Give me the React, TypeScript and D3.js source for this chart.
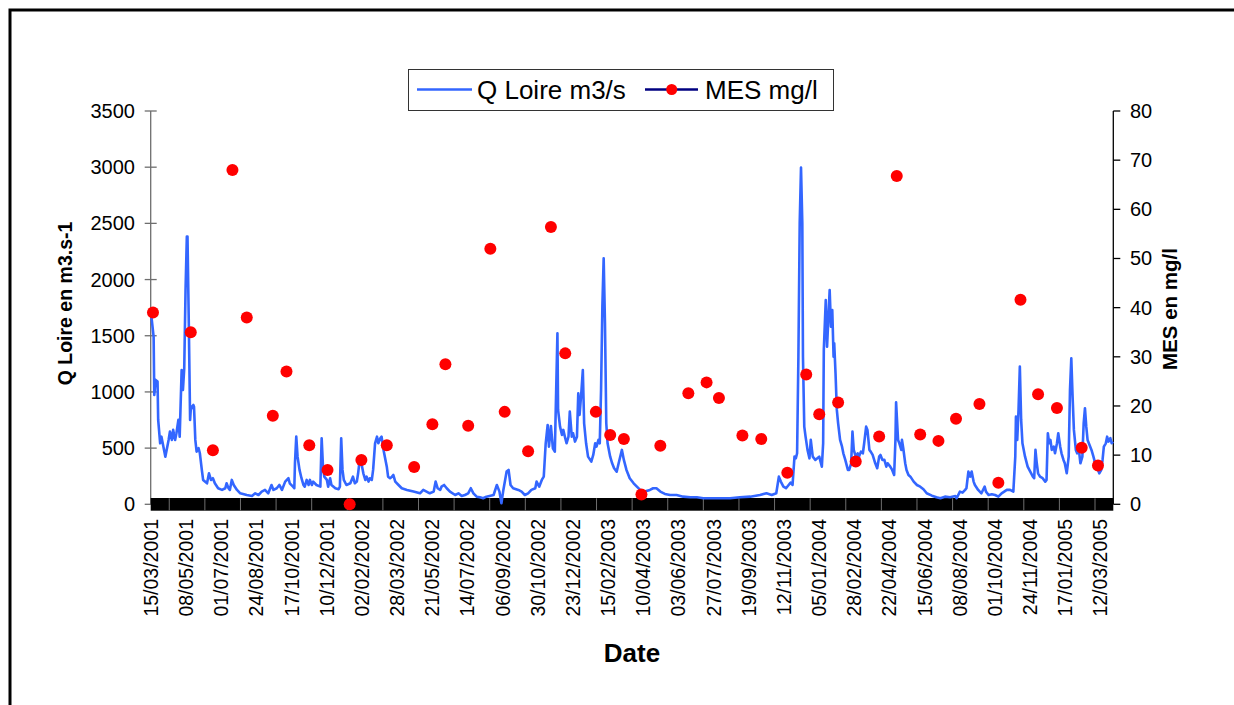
import React from "react";
import * as d3 from "d3";

// Daily categories starting 15/03/2001 (category index = days since start)
const CATEGORY_COUNT = 1478;
const LABEL_STEP = 54;
const dateLabels = [
  "15/03/2001", "08/05/2001", "01/07/2001", "24/08/2001", "17/10/2001", "10/12/2001",
  "02/02/2002", "28/03/2002", "21/05/2002", "14/07/2002", "06/09/2002", "30/10/2002",
  "23/12/2002", "15/02/2003", "10/04/2003", "03/06/2003", "27/07/2003", "19/09/2003",
  "12/11/2003", "05/01/2004", "28/02/2004", "22/04/2004", "15/06/2004", "08/08/2004",
  "01/10/2004", "24/11/2004", "17/01/2005", "12/03/2005",
];

const qTicks = [0, 500, 1000, 1500, 2000, 2500, 3000, 3500];
const mesTicks = [0, 10, 20, 30, 40, 50, 60, 70, 80];

// Q Loire (m3/s): day index and flow
const qDay = [
  0, 1, 4, 5, 7, 10, 11, 14, 16, 19, 22, 27, 29, 32, 34, 37, 39, 42, 44, 47, 49, 51, 53, 55, 56, 58, 60, 61, 63, 65, 66, 68, 70, 73, 75, 78, 80, 86, 89, 92, 95, 98,
  103, 109, 114, 116, 119, 121, 124, 127, 132, 137, 147, 155, 160, 165, 170, 175, 180, 185, 188, 193, 197, 201, 206, 211, 213, 218, 220, 221, 223, 225, 228, 231, 234, 236, 239, 242, 244, 247, 249, 254, 260, 262, 264, 266, 270, 272, 275, 277, 283, 288, 290, 292, 294, 296,
  300, 306, 310, 313, 316, 318, 321, 323, 326, 329, 331, 334, 336, 339, 341, 344, 347, 349, 352, 354, 357, 359, 362, 364, 367, 370, 372, 375, 380, 385, 393,
  403, 413, 418, 423, 428, 434, 437, 440, 444, 446, 450, 454, 459, 467, 472, 477, 482, 487, 491, 495,
  500, 505, 510, 515, 526, 531, 535, 538, 541, 546, 549, 552, 556, 564, 569, 574, 579, 584, 590, 592, 596,
  600, 603, 606, 609, 611, 614, 617, 620, 624, 625, 628, 631, 633, 636, 638, 641, 643, 646, 648, 651, 654, 656, 658, 661, 663, 665, 668, 671, 676, 679, 682, 684, 687, 689, 691, 693, 695, 697, 699,
  701, 705, 708, 711, 715, 718, 723, 726, 730, 735, 741, 746, 751, 758, 766, 771, 776, 782, 789, 797,
  807, 817, 828, 838, 848, 858, 874, 889, 904, 920, 935, 945, 953, 960, 962, 964, 967, 971, 975, 979, 982, 985, 988, 990, 992, 994, 996, 998,
  1000, 1001, 1003, 1005, 1008, 1011, 1013, 1016, 1020, 1023, 1026, 1030, 1032, 1033, 1036, 1038, 1042, 1044, 1046, 1048, 1049, 1051, 1053, 1055, 1058, 1061, 1063, 1066, 1070, 1072, 1075, 1077, 1079, 1082, 1085, 1087, 1090, 1093, 1095, 1098,
  1100, 1103, 1105, 1108, 1112, 1115, 1118, 1120, 1123, 1126, 1129, 1131, 1135, 1138, 1141, 1143, 1144, 1147, 1149, 1152, 1153, 1155, 1158, 1160, 1163, 1166, 1171, 1176, 1181, 1186, 1191, 1199,
  1206, 1212, 1219, 1227, 1235, 1237, 1242, 1246, 1250, 1252, 1255, 1258, 1260, 1263, 1265, 1270, 1275, 1280, 1282, 1286, 1291, 1296,
  1301, 1306, 1310, 1314, 1319, 1324, 1327, 1328, 1330, 1332, 1334, 1336, 1338, 1342, 1346, 1350, 1354, 1356, 1358, 1360, 1362, 1365, 1369, 1373, 1375, 1377, 1379, 1381, 1383, 1386, 1388, 1391, 1393, 1396, 1398,
  1401, 1403, 1406, 1409, 1411, 1413, 1415, 1417, 1420, 1422, 1425, 1427, 1430, 1432, 1434, 1436, 1438, 1441, 1444, 1447, 1451, 1454, 1456, 1459, 1461, 1463, 1466, 1468, 1470, 1473, 1475, 1477,
];
const qFlow = [
  1700, 1650, 1490, 973, 1107, 1092, 751, 543, 602, 513, 424, 573, 647, 573, 662, 573, 632, 751, 602, 1195, 1018, 1210, 1907, 2382, 2382, 1611, 751, 840, 869, 884, 869, 573, 469, 499, 454, 306, 217, 187, 276, 217, 232, 187,
  143, 128, 143, 187, 143, 128, 217, 172, 128, 98, 83, 74, 98, 83, 113, 128, 98, 172, 128, 143, 172, 128, 202, 232, 187, 157, 143, 365, 602, 424, 306, 232, 172, 157, 217, 172, 217, 172, 202, 172, 157, 588, 335, 246, 217, 157, 232, 172, 143, 134, 157, 588, 306, 217,
  172, 187, 246, 187, 202, 276, 424, 365, 276, 217, 246, 202, 232, 217, 306, 543, 602, 543, 588, 602, 484, 424, 335, 246, 232, 246, 261, 202, 172, 143, 128,
  113, 98, 128, 113, 98, 113, 202, 143, 128, 157, 172, 143, 113, 83, 98, 74, 83, 98, 143, 98,
  68, 63, 54, 68, 83, 172, 113, 9, 128, 291, 306, 172, 143, 128, 113, 83, 98, 128, 143, 202, 157,
  217, 246, 543, 706, 513, 697, 499, 469, 1522, 840, 691, 617, 662, 588, 543, 602, 825, 602, 632, 558, 602, 988, 795, 1018, 1195, 721, 543, 424, 380, 439, 543, 513, 573, 543, 1018, 1759, 2189, 1611, 721,
  543, 424, 365, 321, 291, 365, 484, 395, 306, 232, 187, 157, 128, 113, 128, 143, 143, 113, 92, 83,
  83, 68, 63, 63, 54, 54, 54, 54, 63, 68, 83, 98, 83, 98, 172, 246, 202, 157, 143, 172, 193, 172, 424, 409, 454, 1314, 2501, 2996,
  2501, 1314, 691, 602, 484, 409, 573, 424, 395, 409, 424, 335, 543, 1374, 1818, 1403, 1907, 1581, 1729, 1314, 1433, 1166, 840, 721, 573, 513, 454, 395, 306, 306, 365, 647, 484, 424, 454, 424, 469, 454, 543, 691,
  662, 484, 469, 439, 365, 321, 424, 439, 395, 395, 335, 365, 335, 306, 261, 573, 908, 573, 543, 484, 573, 499, 365, 306, 261, 246, 202, 172, 157, 134, 98, 77,
  63, 54, 68, 63, 74, 54, 113, 104, 128, 143, 291, 246, 291, 202, 172, 128, 98, 157, 113, 83, 89, 83,
  68, 98, 113, 128, 128, 113, 424, 780, 573, 840, 1225, 751, 543, 424, 335, 291, 246, 232, 484, 365, 276, 246, 232, 202, 217, 632, 543, 573, 484, 513, 454, 543, 632, 513, 454,
  395, 365, 276, 424, 1018, 1299, 958, 662, 484, 454, 469, 365, 424, 721, 855, 691, 573, 528, 484, 424, 335, 306, 276, 306, 395, 513, 543, 602, 558, 588, 543, 558,
];

// MES (mg/l): sampled days and concentrations
const mesDay = [
  3, 61, 95, 125, 147, 187, 208, 243, 271, 305, 323, 362, 404, 432, 452, 487, 521, 543, 579, 614, 636, 683, 705, 726,
  753, 782, 825, 853, 872, 908, 937, 977, 1006, 1026, 1055, 1082, 1118, 1145, 1181, 1209, 1236, 1272, 1301, 1335, 1362, 1391, 1429, 1454,
];
const mesValue = [
  39, 35, 11, 68, 38, 18, 27, 12, 7, 0, 9, 12, 7.6, 16.3, 28.5, 16, 52, 18.8, 10.8, 56.4, 30.7, 18.8, 14.1, 13.3,
  2, 11.9, 22.6, 24.8, 21.6, 14, 13.3, 6.4, 26.4, 18.3, 20.7, 8.7, 13.8, 66.8, 14.2, 12.9, 17.4, 20.4, 4.4, 41.6, 22.4, 19.6, 11.5, 7.9,
];

const FONT = "'Liberation Sans', Arial, Helvetica, sans-serif";
const BLUE = "#3366ff";
const RED = "#ff0000";
const NAVY = "#000080";

export default function App() {
  const W = 1234;
  const H = 705;
  const left = 150.7;
  const right = 1113.3;
  const top = 111;
  const bottom = 504.3;

  const x = d3.scaleLinear().domain([0, CATEGORY_COUNT]).range([left, right]);
  const cx = (d: number) => x(d + 0.5);
  const yQ = d3.scaleLinear().domain([0, 3500]).range([bottom, top]);
  const yM = d3.scaleLinear().domain([0, 80]).range([bottom, top]);

  const linePath =
    d3
      .line<number>()
      .x((_, i) => cx(qDay[i]))
      .y((v) => yQ(v))(qFlow) || "";

  // faint aliasing stripes in the dense daily tick band
  const stripes = d3.range(0, 27).map((k) => x(28.5 + k * 54.67));

  return (
    <div style={{ position: "absolute", left: 0, top: 0, width: W, height: H, overflow: "hidden", background: "#fff" }}>
      <svg width={W} height={H} style={{ display: "block", fontFamily: FONT }}>
        <rect x={0} y={0} width={W} height={H} fill="#fff" />
        {/* outer frame */}
        <rect x={10} y={10} width={1300} height={800} fill="none" stroke="#000" strokeWidth={3} />

        {/* left axis */}
        <line x1={left} x2={left} y1={top} y2={bottom} stroke="#6e6e6e" strokeWidth={1.3} />
        {qTicks.map((t) => (
          <g key={"q" + t}>
            <line x1={left - 6} x2={left + 6} y1={yQ(t)} y2={yQ(t)} stroke="#6e6e6e" strokeWidth={1.3} />
            <text x={135} y={yQ(t)} dy="0.35em" textAnchor="end" fontSize={20} fill="#000">
              {t}
            </text>
          </g>
        ))}

        {/* right axis */}
        <line x1={right} x2={right} y1={top} y2={bottom} stroke="#000" strokeWidth={1.3} />
        {mesTicks.map((t) => (
          <g key={"m" + t}>
            <line x1={right} x2={right + 7} y1={yM(t)} y2={yM(t)} stroke="#000" strokeWidth={1.3} />
            <text x={1130} y={yM(t)} dy="0.35em" textAnchor="start" fontSize={20} fill="#000">
              {t}
            </text>
          </g>
        ))}

        {/* dense category tick band */}
        <rect x={left} y={bottom - 6.3} width={right - left} height={12.7} fill="#000" />
        {stripes.map((sx, i) => (
          <line key={"s" + i} x1={sx} x2={sx} y1={bottom - 6} y2={bottom + 6} stroke="#8a8a8a" strokeWidth={0.8} />
        ))}

        {/* x labels */}
        {dateLabels.map((lab, i) => {
          const lx = cx(i * LABEL_STEP);
          return (
            <text
              key={lab}
              transform={`translate(${lx},519) rotate(-90)`}
              dy="0.35em"
              textAnchor="end"
              fontSize={19.5}
              fill="#000"
            >
              {lab}
            </text>
          );
        })}

        {/* Q line */}
        <path d={linePath} fill="none" stroke={BLUE} strokeWidth={2.6} strokeLinejoin="round" />

        {/* MES points */}
        {mesDay.map((d, i) => (
          <circle key={"p" + i} cx={cx(d)} cy={yM(mesValue[i])} r={6} fill={RED} />
        ))}

        {/* axis titles */}
        <text transform="translate(72,303.5) rotate(-90)" textAnchor="middle" fontSize={19.5} fontWeight="bold" fill="#000">
          Q Loire en m3.s-1
        </text>
        <text transform="translate(1177,309) rotate(-90)" textAnchor="middle" fontSize={20.5} fontWeight="bold" fill="#000">
          MES en mg/l
        </text>
        <text x={632} y={662} textAnchor="middle" fontSize={26} fontWeight="bold" fill="#000">
          Date
        </text>

        {/* legend */}
        <rect x={408.5} y={69.5} width={425} height={41} fill="#fff" stroke="#333" strokeWidth={1} />
        <line x1={417} x2={472} y1={89.5} y2={89.5} stroke={BLUE} strokeWidth={2.4} />
        <text x={477} y={98.5} fontSize={26} fill="#000">
          Q Loire m3/s
        </text>
        <line x1={645} x2={698} y1={89.5} y2={89.5} stroke={NAVY} strokeWidth={2.4} />
        <circle cx={671.7} cy={89.5} r={5.5} fill={RED} />
        <text x={705} y={98.5} fontSize={26} fill="#000">
          MES mg/l
        </text>
      </svg>
    </div>
  );
}
